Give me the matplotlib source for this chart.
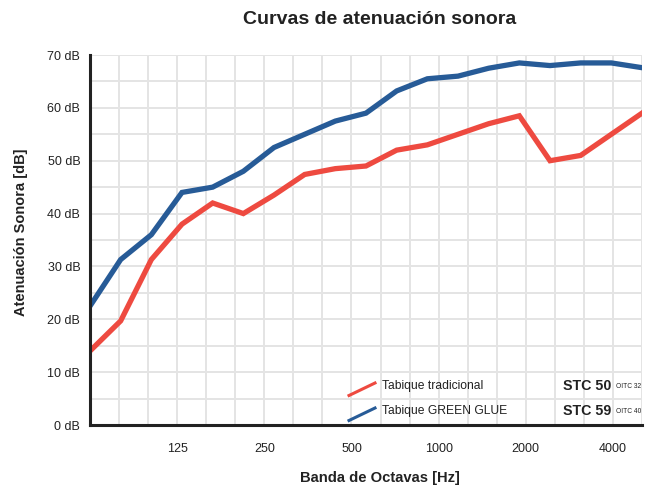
import matplotlib
matplotlib.use("Agg")
import matplotlib.pyplot as plt
import numpy as np

bands = ["63", "80", "100", "125", "160", "200", "250", "315", "400", "500",
         "630", "800", "1000", "1250", "1600", "2000", "2500", "3150", "4000"]
tradicional = [14, 19.7, 31.3, 38, 42, 40, 43.5, 47.4, 48.5, 49, 52, 53, 55, 57, 58.5, 50, 51, 55, 59]
green_glue = [22.5, 31.3, 36, 44, 45, 48, 52.5, 55, 57.5, 59, 63.2, 65.5, 66, 67.5, 68.5, 68, 68.5, 68.5, 67.6]
tick_labels = ["125", "250", "500", "1000", "2000", "4000"]
y_ticks = [0, 10, 20, 30, 40, 50, 60, 70]
legend_names = ["Tabique tradicional", "Tabique GREEN GLUE"]
stc = ["STC 50", "STC 59"]
oitc = ["OITC 32", "OITC 40"]

RED = "#EE4A40"
BLUE = "#275B97"
NARROW = ["Liberation Sans Narrow", "Liberation Sans", "DejaVu Sans"]
SANS = ["Liberation Sans", "DejaVu Sans"]

W, H = 651, 486
fig = plt.figure(figsize=(W / 100, H / 100), dpi=100)
L, R, T, B = 90, 642, 55, 425
ax = fig.add_axes([L / W, 1 - B / H, (R - L) / W, (B - T) / H])

x = np.arange(len(bands))
n = len(bands) - 1
ax.set_xlim(0, n)
ax.set_ylim(0, 70)

# grid
grid_x = [k * n / 19 for k in range(20)]
for gx in grid_x:
    ax.axvline(gx, color="#E4E4E4", lw=1.4, zorder=0)
for gy in range(0, 75, 5):
    ax.axhline(gy, color="#E4E4E4", lw=1.4, zorder=0)

ax.plot(x, tradicional, color=RED, lw=3.8, solid_joinstyle="miter", zorder=3)
ax.plot(x, green_glue, color=BLUE, lw=3.8, solid_joinstyle="miter", zorder=3)

ax.set_xticks([grid_x[k] for k in (3, 6, 9, 12, 15, 18)])
ax.set_xticklabels(tick_labels, fontfamily=NARROW, fontsize=9, color="#222222")
ax.set_yticks(y_ticks)
ax.set_yticklabels([f"{v} dB" for v in y_ticks], fontfamily=NARROW, fontsize=9, color="#222222")
ax.tick_params(axis="x", length=0, pad=13)
ax.tick_params(axis="y", length=0, pad=7)

for s in ["top", "right"]:
    ax.spines[s].set_visible(False)
for s in ["left", "bottom"]:
    ax.spines[s].set_color("#222222")
    ax.spines[s].set_linewidth(2.2)
    ax.spines[s].set_zorder(5)

fig.text(380 / W, 1 - 19 / H, "Curvas de atenuación sonora", ha="center", va="center",
         fontsize=14, fontweight="bold", family=SANS, color="#222222")
fig.text(380 / W, 1 - 478 / H, "Banda de Octavas [Hz]", ha="center", va="center",
         fontsize=10.6, fontweight="bold", family=SANS, color="#222222")
fig.text(21 / W, 1 - 232 / H, "Atenuación Sonora [dB]", ha="center", va="center",
         rotation=90, fontsize=10.5, fontweight="bold", family=SANS, color="#222222")

# legend
def px(xp, yp):
    return (xp / W, 1 - yp / H)

rows = [385.5, 410.5]
for i, (col, name) in enumerate(zip([RED, BLUE], legend_names)):
    yc = rows[i]
    x0, y0 = px(349, yc + 10)
    x1, y1 = px(375, yc - 2.5)
    fig.add_artist(plt.Line2D([x0, x1], [y0, y1], color=col, lw=2.2))
    fig.text(382 / W, 1 - yc / H, name, ha="left", va="center", fontsize=8.7,
             family=NARROW, color="#222222")
    fig.text(563 / W, 1 - yc / H, stc[i], ha="left", va="center", fontsize=10.3,
             fontweight="bold", family=SANS, color="#222222")
    fig.text(616 / W, 1 - (yc + 1) / H, oitc[i], ha="left", va="center", fontsize=4.8,
             family=NARROW, color="#222222")

fig.savefig("out.png", dpi=100)
